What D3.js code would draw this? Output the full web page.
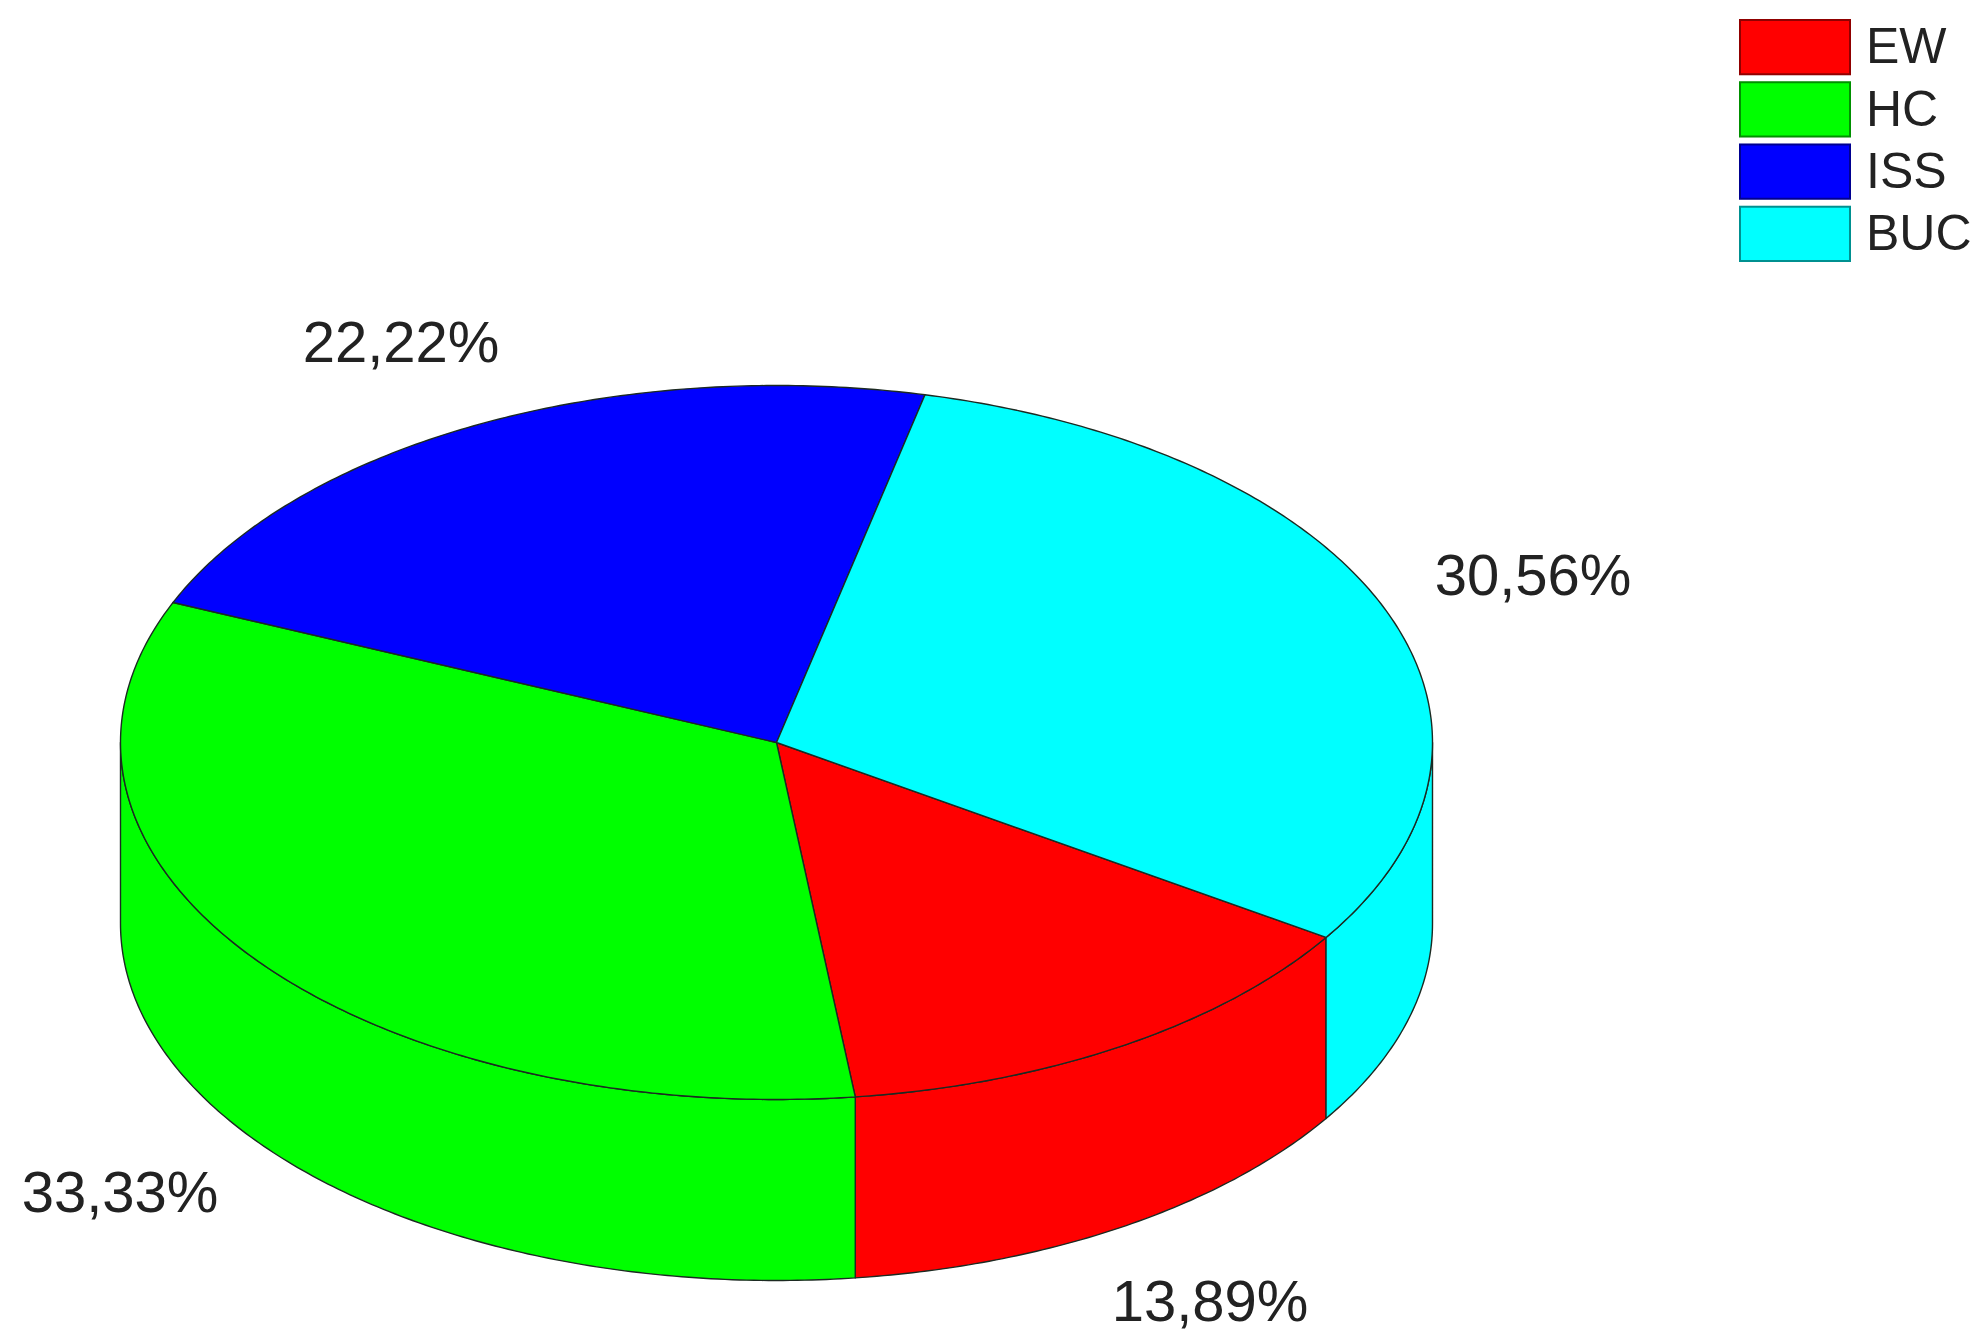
<!DOCTYPE html>
<html><head><meta charset="utf-8">
<script src="https://cdnjs.cloudflare.com/ajax/libs/d3/7.8.5/d3.min.js"></script>
<style>html,body{margin:0;background:#fff}svg{display:block}text{font-family:"Liberation Sans",Arial,sans-serif;fill:#222}</style>
</head><body><svg id="c" width="1983" height="1343"></svg>
<script>
const categories = ["EW","HC","ISS","BUC"];
const values = [13.89,33.33,22.22,30.56];
const valueLabels = ["13,89%","33,33%","22,22%","30,56%"];
const colors = ["#ff0000","#00ff00","#0000ff","#00ffff"];

const svg = d3.select("#c");
const cx=776.5, cy=742.5, rx=656, ry=357, depth=181, line="#1c2a22", sw=1.4;
const startDeg=33.1;
// d3 pie angles: 0 = screen east here, increasing clockwise
const pie = d3.pie().sort(null).value(d=>d).startAngle(startDeg*Math.PI/180).endAngle((startDeg+360)*Math.PI/180);
const arcs = pie(values);
const px=a=>cx+rx*Math.cos(a), py=a=>cy+ry*Math.sin(a);

function sectorPath(s,e){
  const p=d3.path(); p.moveTo(cx,cy); p.lineTo(px(s),py(s));
  const n=Math.max(2,Math.ceil((e-s)*90));
  d3.range(1,n+1).forEach(i=>{const a=s+(e-s)*i/n;p.lineTo(px(a),py(a));});
  p.closePath(); return p.toString();
}
function wallPath(s,e){
  const n=Math.max(2,Math.ceil((e-s)*90)), t=d3.range(0,n+1).map(i=>s+(e-s)*i/n);
  return d3.area().x(a=>px(a)).y0(a=>py(a)).y1(a=>py(a)+depth)(t);
}
// walls: visible only on the front half (0..PI)
const g=svg.append("g");
arcs.forEach((d,i)=>{
  [[d.startAngle,d.endAngle],[d.startAngle-2*Math.PI,d.endAngle-2*Math.PI]].forEach(([s0,e0])=>{
    const s=Math.max(s0,0), e=Math.min(e0,Math.PI);
    if(e>s) g.append("path").attr("d",wallPath(s,e)).attr("fill",colors[i]).attr("stroke",line).attr("stroke-width",sw).attr("stroke-linejoin","round");
  });
});
// top
g.selectAll("path.top").data(arcs).join("path").attr("class","top")
 .attr("d",d=>sectorPath(d.startAngle,d.endAngle))
 .attr("fill",(d,i)=>colors[i]).attr("stroke",line).attr("stroke-width",sw).attr("stroke-linejoin","round");

// value labels
const labelPos=[[1210,1306],[120,1197],[401,347],[1533,580]];
svg.selectAll("text.v").data(valueLabels).join("text").attr("class","v")
 .attr("x",(d,i)=>labelPos[i][0]).attr("y",(d,i)=>labelPos[i][1]).attr("text-anchor","middle")
 .attr("dominant-baseline","middle").attr("font-size",58).text(d=>d);

// legend
const ly=d3.scaleBand().domain(categories).range([20,261]).paddingInner(0.128);
const lg=svg.append("g");
lg.selectAll("rect").data(categories).join("rect")
 .attr("x",1740).attr("y",d=>ly(d)).attr("width",110).attr("height",ly.bandwidth())
 .attr("fill",(d,i)=>colors[i]).attr("stroke",(d,i)=>d3.color(colors[i]).darker(1.6)).attr("stroke-width",2);
lg.selectAll("text").data(categories).join("text")
 .attr("x",1866).attr("y",d=>ly(d)+ly.bandwidth()/2+3).attr("dominant-baseline","middle")
 .attr("font-size",50).text(d=>d);
</script></body></html>
